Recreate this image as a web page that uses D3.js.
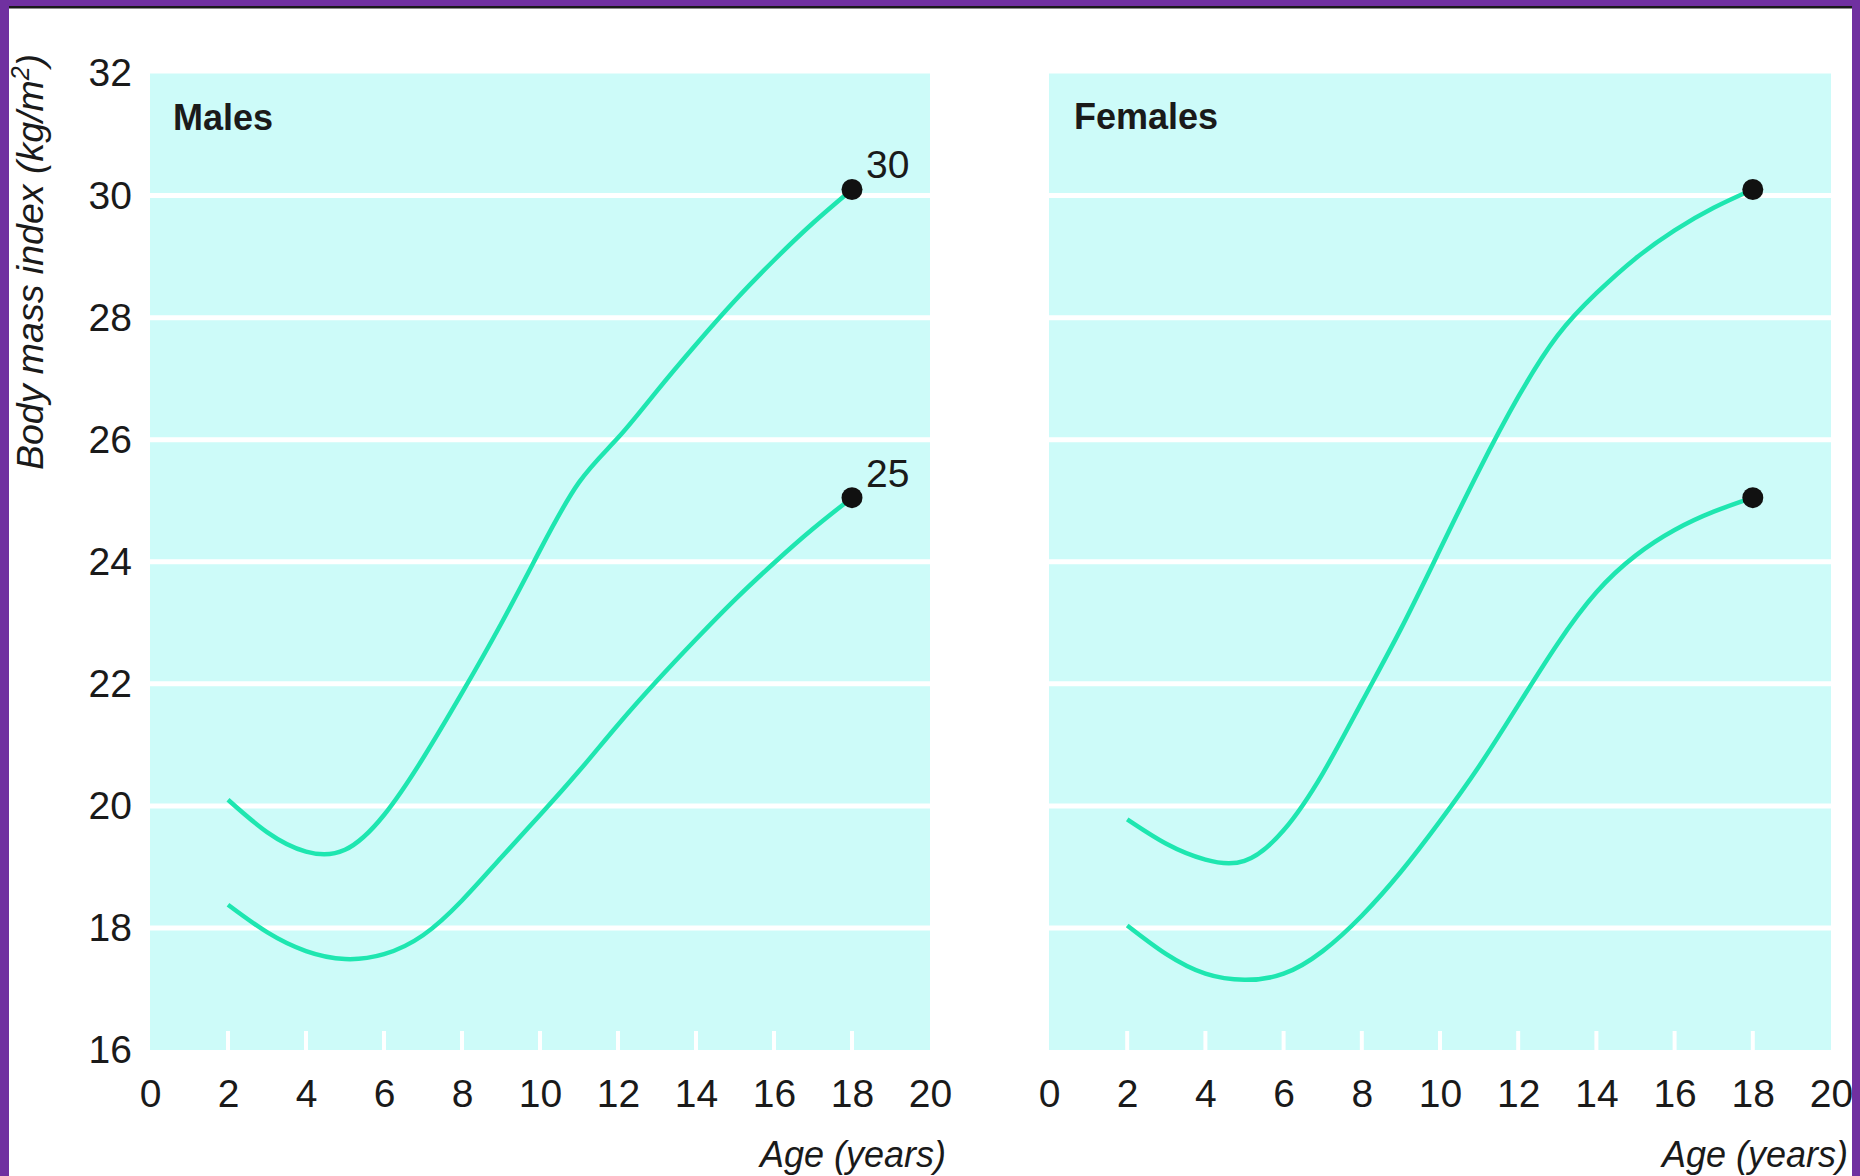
<!DOCTYPE html>
<html>
<head>
<meta charset="utf-8">
<script src="https://cdn.jsdelivr.net/npm/d3@7"></script>
<style>
  html, body { margin: 0; padding: 0; background: #ffffff; }
  svg { display: block; }
  text { font-family: "Liberation Sans", Arial, sans-serif; fill: #1a1a1a; }
</style>
</head>
<body>
<svg id="chart" width="1860" height="1176"></svg>
<script>
// ---- data ----
const ages = [2, 3, 4, 5, 6, 7, 8, 9, 10, 11, 12, 13, 14, 15, 16, 17, 18];
const malesBMI30 = [20.1, 19.57, 19.25, 19.28, 19.85, 20.78, 21.85, 22.98, 24.19, 25.3, 26.03, 26.8, 27.56, 28.28, 28.94, 29.55, 30.1];
const malesBMI25 = [18.38, 17.93, 17.62, 17.49, 17.57, 17.88, 18.45, 19.15, 19.85, 20.57, 21.33, 22.05, 22.73, 23.38, 23.98, 24.54, 25.05];
const femalesBMI30 = [19.78, 19.38, 19.12, 19.1, 19.6, 20.53, 21.7, 22.9, 24.2, 25.5, 26.7, 27.7, 28.4, 28.97, 29.43, 29.8, 30.1];
const femalesBMI25 = [18.04, 17.57, 17.25, 17.15, 17.25, 17.62, 18.2, 18.92, 19.75, 20.65, 21.65, 22.65, 23.5, 24.1, 24.52, 24.82, 25.05];
const panelTitles = ["Males", "Females"];
const endLabels = ["30", "25"];
const xTicks = [0, 2, 4, 6, 8, 10, 12, 14, 16, 18, 20];
const yTicks = [16, 18, 20, 22, 24, 26, 28, 30, 32];
const gridValues = [18, 20, 22, 24, 26, 28, 30];
const innerTicks = [2, 4, 6, 8, 10, 12, 14, 16, 18];
const endAge = 18;
const xTitle = "Age (years)";

// ---- layout ----
const W = 1860, H = 1176;
const svg = d3.select("#chart");
const C = { purple: "#7030a0", bg: "#cdfbf9", line: "#1ee6b0", grid: "#ffffff", dot: "#111111" };

const y = d3.scaleLinear().domain([16, 32]).range([1050, 73.5]);
const panels = [
  { title: panelTitles[0], series: [malesBMI30, malesBMI25], range: [150, 930], yAxis: true, labels: true, titleX: 173, titleY: 130, xTitleRight: 946 },
  { title: panelTitles[1], series: [femalesBMI30, femalesBMI25], range: [1049, 1831], yAxis: false, labels: false, titleX: 1074, titleY: 129, xTitleRight: 1848 }
];

svg.append("rect").attr("x", 0).attr("y", 0).attr("width", W).attr("height", H).attr("fill", "#ffffff");

panels.forEach(p => {
  const x = d3.scaleLinear().domain([0, 20]).range(p.range);
  const g = svg.append("g");

  // background
  g.append("rect")
    .attr("x", x(0)).attr("y", y(32))
    .attr("width", x(20) - x(0)).attr("height", y(16) - y(32))
    .attr("fill", C.bg);

  // white gridlines
  g.selectAll("line.grid").data(gridValues).join("line")
    .attr("class", "grid")
    .attr("x1", x(0)).attr("x2", x(20))
    .attr("y1", d => y(d)).attr("y2", d => y(d))
    .attr("stroke", C.grid).attr("stroke-width", 5);

  // white inner ticks at the bottom
  g.selectAll("line.itick").data(innerTicks).join("line")
    .attr("class", "itick")
    .attr("x1", d => x(d)).attr("x2", d => x(d))
    .attr("y1", y(16)).attr("y2", y(16) - 19)
    .attr("stroke", C.grid).attr("stroke-width", 4);

  // x axis labels
  const xAxis = d3.axisBottom(x).tickValues(xTicks).tickSize(0).tickPadding(29).tickFormat(d3.format("d"));
  const xg = g.append("g").attr("transform", `translate(0,${y(16)})`).call(xAxis);
  xg.select(".domain").remove();
  xg.selectAll("text").attr("font-size", 39).attr("fill", "#1a1a1a")
    .style("font-family", '"Liberation Sans", Arial, sans-serif');

  // x axis title
  g.append("text")
    .attr("x", p.xTitleRight).attr("y", 1167)
    .attr("text-anchor", "end")
    .attr("font-size", 36).attr("font-style", "italic")
    .text(xTitle);

  // y axis labels
  if (p.yAxis) {
    const yAxis = d3.axisLeft(y).tickValues(yTicks).tickSize(0).tickPadding(18).tickFormat(d3.format("d"));
    const yg = g.append("g").attr("transform", `translate(${x(0)},0)`).call(yAxis);
    yg.select(".domain").remove();
    yg.selectAll("text").attr("font-size", 39).attr("fill", "#1a1a1a")
      .style("font-family", '"Liberation Sans", Arial, sans-serif');
  }

  // panel title
  g.append("text")
    .attr("x", p.titleX).attr("y", p.titleY)
    .attr("font-size", 36).attr("font-weight", "bold")
    .text(p.title);

  // curves
  const line = d3.line()
    .x((d, i) => x(ages[i]))
    .y(d => y(d))
    .curve(d3.curveNatural);
  p.series.forEach((s, si) => {
    g.append("path").datum(s)
      .attr("d", line)
      .attr("fill", "none")
      .attr("stroke", C.line)
      .attr("stroke-width", 4.5)
      .attr("stroke-linecap", "butt");
    const last = s[s.length - 1];
    g.append("circle")
      .attr("cx", x(endAge)).attr("cy", y(last))
      .attr("r", 10.5).attr("fill", C.dot);
    if (p.labels) {
      g.append("text")
        .attr("x", x(endAge) + 14).attr("y", y(last) - 11)
        .attr("font-size", 39)
        .text(endLabels[si]);
    }
  });
});

// y axis title
const yt = svg.append("text")
  .attr("transform", "translate(43,262) rotate(-90)")
  .attr("text-anchor", "middle")
  .attr("font-size", 37.5).attr("font-style", "italic");
yt.append("tspan").text("Body mass index (kg/m");
yt.append("tspan").attr("font-size", 25).attr("dy", -14).text("2");
yt.append("tspan").attr("dy", 14).text(")");

// purple frame
svg.append("rect").attr("x", 0).attr("y", 0).attr("width", 9).attr("height", H).attr("fill", C.purple);
svg.append("rect").attr("x", W - 8).attr("y", 0).attr("width", 8).attr("height", H).attr("fill", C.purple);
svg.append("rect").attr("x", 0).attr("y", 0).attr("width", W).attr("height", 6).attr("fill", C.purple);
svg.append("rect").attr("x", 9).attr("y", 6).attr("width", W - 17).attr("height", 2.5).attr("fill", "#1a1a1a");
</script>
</body>
</html>
